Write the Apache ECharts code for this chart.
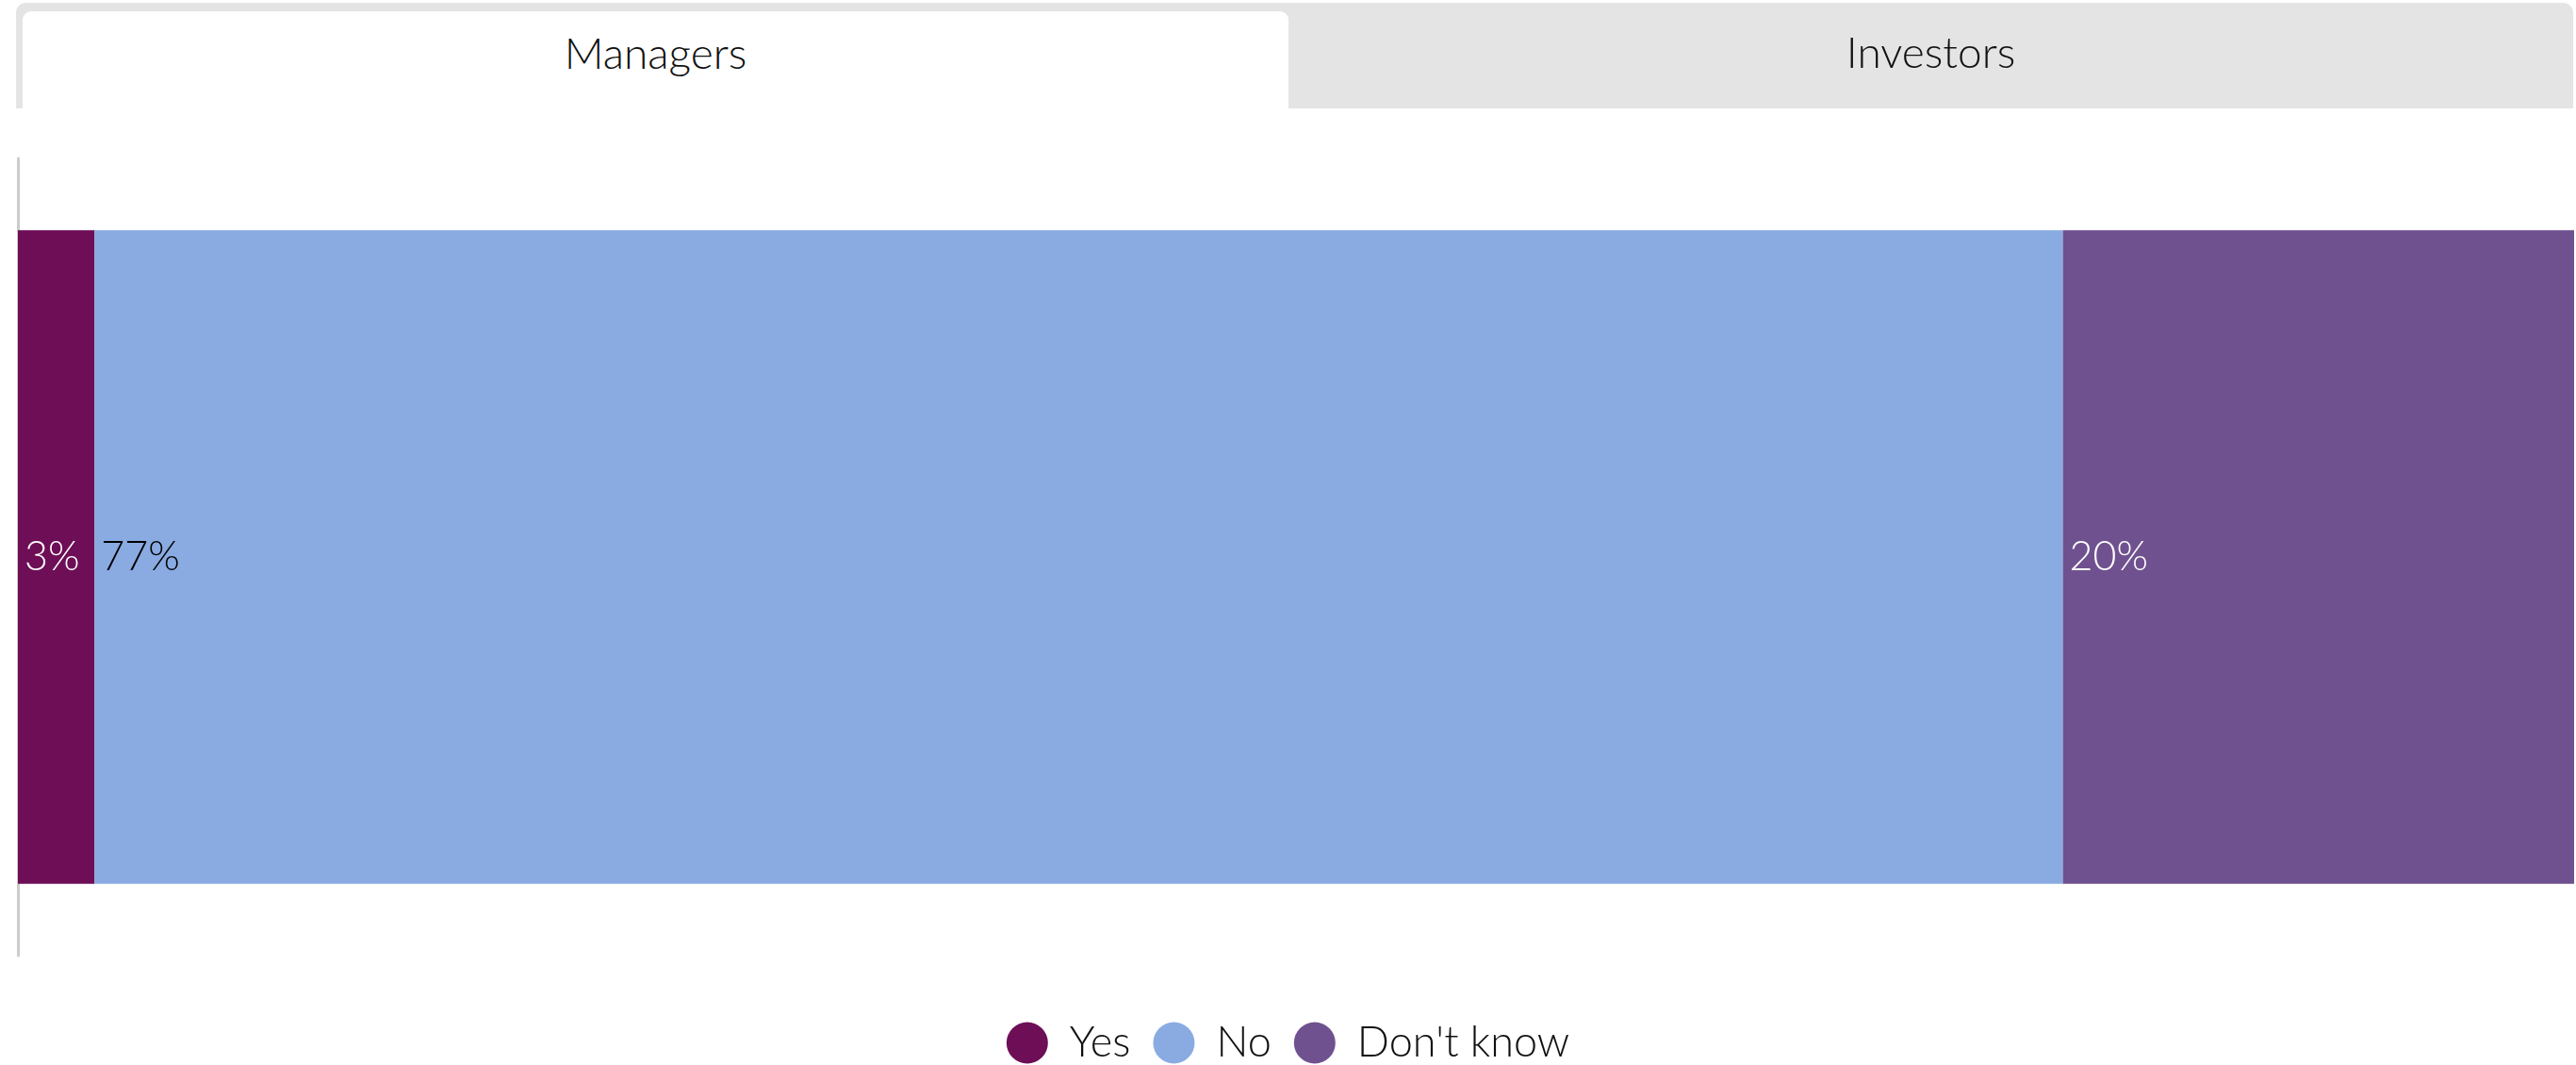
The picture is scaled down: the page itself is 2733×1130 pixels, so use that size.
<!DOCTYPE html>
<html>
<head>
<meta charset="utf-8">
<script src="https://cdn.jsdelivr.net/npm/echarts@6/dist/echarts.min.js"></script>
<style>
  html, body { margin: 0; padding: 0; background: #fff; }
  body { width: 2733px; height: 1130px; position: relative; overflow: hidden; font-family: Lato, "Open Sans", sans-serif; font-weight: 300; }
  .tabbar { position: absolute; left: 17px; top: 3px; width: 2713px; height: 112px; background: #e4e4e4; border-radius: 10px 10px 0 0; }
  .tab { position: absolute; top: 0; height: 112px; line-height: 104px; text-align: center; font-size: 46px; color: #111; }
  .tab.active { left: 7px; top: 9px; width: 1343px; height: 103px; line-height: 88px; background: #fff; border-radius: 9px 9px 0 0; }
  .tab.other { left: 1350px; width: 1363px; }
  #chart { position: absolute; left: 0; top: 0; width: 2733px; height: 1130px; }
</style>
</head>
<body>
<div id="chart"></div>
<div class="tabbar">
  <div class="tab active">Managers</div>
  <div class="tab other">Investors</div>
</div>
<script>
// data
let categories = ['Managers'];
let seriesNames = ['Yes', 'No', "Don't know"];
let yesValues = [3];
let noValues = [77];
let dontKnowValues = [20];

let colors = ['#6d0e56', '#89abe2', '#6f518f'];
let labelColors = ['#ffffff', '#000000', '#ffffff'];
let allValues = [yesValues, noValues, dontKnowValues];

let myChart = echarts.init(document.getElementById('chart'), null, { renderer: 'canvas' });

let series = [];
for (let i = 0; i < seriesNames.length; i++) {
  series.push({
    name: seriesNames[i],
    type: 'bar',
    stack: 'total',
    barCategoryGap: '18%',
    itemStyle: { color: colors[i] },
    label: {
      show: true,
      position: 'insideLeft',
      distance: 7,
      formatter: '{c}%',
      color: labelColors[i],
      fontSize: 43,
      fontFamily: 'Lato',
      fontWeight: 300
    },
    emphasis: { disabled: true },
    data: allValues[i]
  });
}

let option = {
  animation: false,
  color: colors,
  grid: { left: 19, right: 2, top: 168, bottom: 116, containLabel: false },
  xAxis: {
    type: 'value',
    min: 0,
    max: 100,
    show: false
  },
  yAxis: {
    type: 'category',
    data: categories,
    axisLine: { show: true, lineStyle: { color: '#cccccc', width: 3 } },
    axisTick: { show: false },
    axisLabel: { show: false },
    splitLine: { show: false }
  },
  legend: {
    show: true,
    top: 1079,
    left: 'center',
    icon: 'circle',
    itemWidth: 44,
    itemHeight: 44,
    itemGap: 24,
    textStyle: { fontSize: 45, color: '#111', fontFamily: 'Lato', fontWeight: 300, padding: [0, 0, 0, 18] },
    data: seriesNames
  },
  series: series
};

myChart.setOption(option, true);
</script>
</body>
</html>
